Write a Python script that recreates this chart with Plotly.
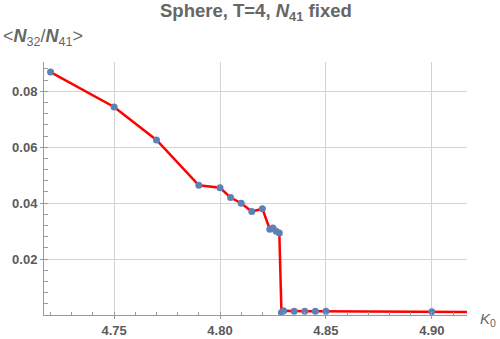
import plotly.graph_objects as go

k0 = [4.72, 4.75, 4.77, 4.79, 4.80, 4.805, 4.81, 4.815, 4.82, 4.8235, 4.825,
      4.8265, 4.828, 4.829, 4.830, 4.835, 4.84, 4.845, 4.85, 4.90, 4.95]
ratio = [0.0869, 0.0744, 0.0626, 0.0464, 0.0455, 0.042, 0.040, 0.037, 0.038,
         0.0307, 0.0311, 0.030, 0.0293, 0.0009, 0.0015, 0.0013, 0.0013, 0.0013,
         0.0013, 0.0012, 0.0010]
x_ticks = [4.75, 4.80, 4.85, 4.90]
x_tick_labels = ["4.75", "4.80", "4.85", "4.90"]
y_ticks = [0.02, 0.04, 0.06, 0.08]
y_tick_labels = ["0.02", "0.04", "0.06", "0.08"]

GRAY = "#666666"
TICKGRAY = "#5a5a5a"
AX = "#9a9a9a"
FONT = "Liberation Sans"

fig = go.Figure()
fig.add_trace(go.Scatter(x=k0, y=ratio, mode="lines",
                         line=dict(color="#ff0000", width=2.5), hoverinfo="skip"))
fig.add_trace(go.Scatter(x=k0, y=ratio, mode="markers",
                         marker=dict(color="#5E81B5", size=7)))

fig.update_layout(
    width=500, height=339,
    margin=dict(l=44, r=33, t=62, b=24),
    plot_bgcolor="white", paper_bgcolor="white",
    showlegend=False,
    font=dict(family=FONT, color=GRAY),
    xaxis=dict(
        range=[4.7169, 4.9166], tickvals=x_ticks, ticktext=x_tick_labels,
        showgrid=True, gridcolor="#d3d3d3", gridwidth=1, zeroline=False,
        showline=True, linecolor=AX, linewidth=1, automargin=False,
        ticks="outside", ticklen=3, tickcolor=AX,
        tickfont=dict(family=FONT, size=13, color=TICKGRAY, weight="bold"),
        minor=dict(dtick=0.01, tick0=4.70, ticks="inside", ticklen=3, tickcolor=AX, showgrid=False),
    ),
    yaxis=dict(
        range=[0, 0.0905], tickvals=y_ticks, ticktext=y_tick_labels,
        showgrid=True, gridcolor="#d3d3d3", gridwidth=1, zeroline=False,
        showline=True, linecolor=AX, linewidth=1, automargin=False,
        ticks="outside", ticklen=3, tickcolor=AX,
        tickfont=dict(family=FONT, size=13, color=TICKGRAY, weight="bold"),
        minor=dict(dtick=0.004, tick0=0, ticks="inside", ticklen=4, tickcolor=AX, showgrid=False),
    ),
    annotations=[
        dict(text="Sphere, T=4, <i>N</i><sub>41</sub> fixed", xref="paper", yref="paper",
             x=0.5, y=1, yshift=50, xanchor="center", yanchor="middle", showarrow=False,
             font=dict(family=FONT, size=18.5, color=GRAY, weight="bold")),
        dict(text="&lt;<b><i>N</i></b><sub>32</sub>/<b><i>N</i></b><sub>41</sub>&gt;",
             xref="paper", yref="paper",
             x=0, xshift=-43, y=1, yshift=25, xanchor="left", yanchor="middle", showarrow=False,
             font=dict(family=FONT, size=18, color=GRAY)),
        dict(text="<i>K</i><sub>0</sub>", xref="paper", yref="paper",
             x=1, xshift=11, y=0, yshift=-4, xanchor="left", yanchor="middle", showarrow=False,
             font=dict(family=FONT, size=15, color=GRAY)),
    ],
)

fig.write_html("out.html", config={"displayModeBar": False},
               post_script="document.body.style.margin='0';")
